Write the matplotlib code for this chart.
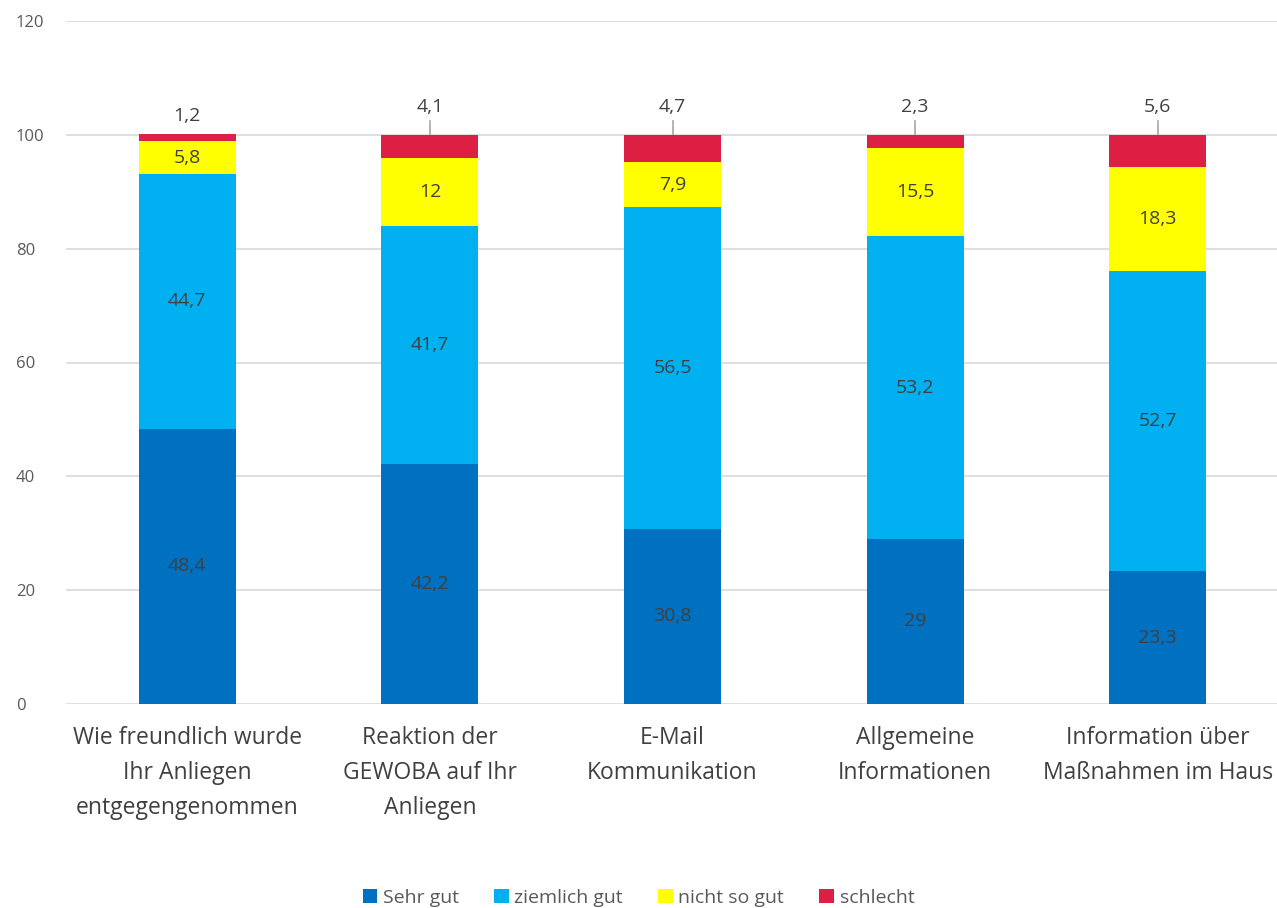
import matplotlib
matplotlib.use("Agg")
import matplotlib.pyplot as plt
import numpy as np

categories = [
    "Wie freundlich wurde\nIhr Anliegen\nentgegengenommen",
    "Reaktion der\nGEWOBA auf Ihr\nAnliegen",
    "E-Mail\nKommunikation",
    "Allgemeine\nInformationen",
    "Information über\nMaßnahmen im Haus",
]
series_names = ["Sehr gut", "ziemlich gut", "nicht so gut", "schlecht"]
sehr_gut = [48.4, 42.2, 30.8, 29, 23.3]
ziemlich_gut = [44.7, 41.7, 56.5, 53.2, 52.7]
nicht_so_gut = [5.8, 12, 7.9, 15.5, 18.3]
schlecht = [1.2, 4.1, 4.7, 2.3, 5.6]
y_ticks = [0, 20, 40, 60, 80, 100, 120]

colors = ["#0070C0", "#00B0F0", "#FFFF00", "#DC1F43"]

plt.rcParams['font.family'] = ['Open Sans', 'DejaVu Sans']

fig = plt.figure(figsize=(12.77, 9.08), dpi=100)
ax = fig.add_axes([66/1277, (908-704)/908, 1213/1277, (704-21)/908])

x = np.arange(len(categories))
data = [sehr_gut, ziemlich_gut, nicht_so_gut, schlecht]
bottom = np.zeros(len(categories))

def fmt(v):
    return ("%g" % v).replace(".", ",")

for i, (vals, name, col) in enumerate(zip(data, series_names, colors)):
    vals = np.array(vals, dtype=float)
    ax.bar(x, vals, 0.4, bottom=bottom, color=col, label=name, zorder=3)
    if i < 3:
        for xi, b, v in zip(x, bottom, vals):
            ax.text(xi, b + v / 2, fmt(v), ha="center", va="center",
                    fontsize=14, color="#404040", zorder=4)
    else:
        for j, (xi, b, v) in enumerate(zip(x, bottom, vals)):
            top = b + v
            if j == 0:
                ax.text(xi, 103.3, fmt(v), ha="center", va="center",
                        fontsize=14, color="#404040")
            else:
                ax.plot([xi, xi], [top, 102.5], color="#A6A6A6", lw=1.2, zorder=2)
                ax.text(xi, 104.9, fmt(v), ha="center", va="center",
                        fontsize=14, color="#404040")
    bottom = bottom + vals

ax.set_xlim(-0.5, len(categories) - 0.5)
ax.set_ylim(0, 120)
ax.set_yticks(y_ticks)
ax.set_yticklabels([str(t) for t in y_ticks], fontsize=12, color="#595959")
ax.yaxis.grid(True, color="#D9D9D9", lw=1.2, zorder=0)
ax.set_axisbelow(True)
for s in ax.spines.values():
    s.set_visible(False)
ax.tick_params(axis="x", length=0, pad=16)
ax.set_xticks(x)
ax.set_xticklabels(categories, fontsize=16.5, color="#404040", linespacing=1.6)
for lab in ax.get_yticklabels():
    lab.set_horizontalalignment("left")
ax.yaxis.set_tick_params(length=0, pad=36)

fig.legend(loc="lower center", bbox_to_anchor=(0.5, -0.018), ncol=4, frameon=False,
           fontsize=14, handlelength=0.75, handleheight=0.75, handletextpad=0.3,
           columnspacing=1.8, labelcolor="#595959")

fig.savefig("out.png", dpi=100)
